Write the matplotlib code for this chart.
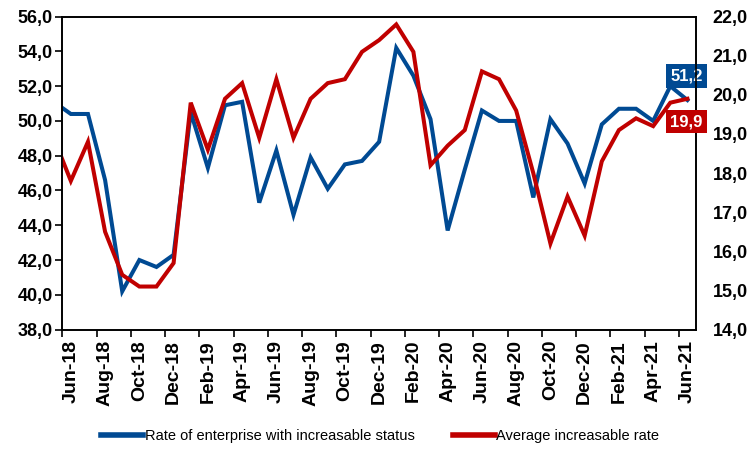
import numpy as np
import matplotlib
matplotlib.use("Agg")
import matplotlib.pyplot as plt
from matplotlib.ticker import FixedLocator, FuncFormatter

# monthly data, May-18 .. Jun-21 (May-18 only shows as the clipped stub at the left edge)
months = ["May-18", "Jun-18", "Jul-18", "Aug-18", "Sep-18", "Oct-18", "Nov-18", "Dec-18",
          "Jan-19", "Feb-19", "Mar-19", "Apr-19", "May-19", "Jun-19", "Jul-19", "Aug-19",
          "Sep-19", "Oct-19", "Nov-19", "Dec-19", "Jan-20", "Feb-20", "Mar-20", "Apr-20",
          "May-20", "Jun-20", "Jul-20", "Aug-20", "Sep-20", "Oct-20", "Nov-20", "Dec-20",
          "Jan-21", "Feb-21", "Mar-21", "Apr-21", "May-21", "Jun-21"]
rate_status = [51.1, 50.4, 50.4, 46.6, 40.2, 42.0, 41.6, 42.3, 50.5, 47.3, 50.9, 51.1,
               45.3, 48.3, 44.6, 47.9, 46.1, 47.5, 47.7, 48.8, 54.2, 52.6, 50.1, 43.7,
               47.2, 50.6, 50.0, 50.0, 45.6, 50.1, 48.7, 46.4, 49.8, 50.7, 50.7, 50.0,
               52.0, 51.2]
avg_rate = [18.9, 17.8, 18.8, 16.5, 15.4, 15.1, 15.1, 15.7, 19.8, 18.6, 19.9, 20.3,
            18.9, 20.4, 18.9, 19.9, 20.3, 20.4, 21.1, 21.4, 21.8, 21.1, 18.2, 18.7,
            19.1, 20.6, 20.4, 19.6, 18.0, 16.2, 17.4, 16.4, 18.3, 19.1, 19.4, 19.2,
            19.8, 19.9]
label_status = "Rate of enterprise with increasable status"
label_avg = "Average increasable rate"

BLUE = "#004A93"
RED = "#C00000"
plt.rcParams["font.family"] = ["Liberation Sans", "DejaVu Sans"]

x = np.arange(len(months)) - 1  # Jun-18 sits at 0

fig = plt.figure(figsize=(7.53, 4.49), dpi=100)
ax = fig.add_axes([0.0827, 0.266, 0.8416, 0.697])
ax2 = ax.twinx()

l1, = ax.plot(x, rate_status, color=BLUE, lw=2.9, solid_joinstyle="miter", label=label_status)
l2, = ax2.plot(x, avg_rate, color=RED, lw=2.9, solid_joinstyle="miter", label=label_avg)

ax.set_xlim(-0.5, 36.5)
ax.set_ylim(38, 56)
ax2.set_ylim(14, 22)
ax.set_yticks(np.arange(38, 56.1, 2))
ax2.set_yticks(np.arange(14, 22.1, 1))
comma = FuncFormatter(lambda v, p: f"{v:.1f}".replace(".", ","))
ax.yaxis.set_major_formatter(comma)
ax2.yaxis.set_major_formatter(comma)

# tick marks between categories every two months, labels on the category itself
ax.xaxis.set_major_locator(FixedLocator(np.arange(-0.5, 36, 2)))
ax.xaxis.set_major_formatter(FuncFormatter(lambda v, p: ""))
ax.xaxis.set_minor_locator(FixedLocator(np.arange(0, 37, 2)))
ax.set_xticklabels([months[i + 1] for i in range(0, 37, 2)], minor=True)
ax.tick_params(axis="x", which="major", length=5, width=1.2, direction="out")
ax.tick_params(axis="x", which="minor", length=0, pad=7.5, labelrotation=90)
for t in ax.get_xticklabels(minor=True):
    t.set_fontweight("bold")
    t.set_fontsize(14)

ax.tick_params(axis="y", length=5, width=1.2, pad=2, labelsize=13)
ax2.tick_params(axis="y", length=0, pad=12, labelsize=13)
for t in ax.get_yticklabels() + ax2.get_yticklabels():
    t.set_fontweight("bold")

for a in (ax, ax2):
    for s in a.spines.values():
        s.set_linewidth(1.2)
        s.set_color("black")

# end-of-series value labels
fmt = lambda v: f"{v:.1f}".replace(".", ",")
ax.annotate(fmt(rate_status[-1]), (x[-1], rate_status[-1]), xytext=(-1, 24),
            textcoords="offset pixels", ha="center", va="center", color="white",
            fontsize=12, fontweight="bold", annotation_clip=False,
            bbox=dict(boxstyle="square,pad=0.25", fc=BLUE, ec="none"))
ax2.annotate(fmt(avg_rate[-1]), (x[-1], avg_rate[-1]), xytext=(-1, -23),
             textcoords="offset pixels", ha="center", va="center", color="white",
             fontsize=12, fontweight="bold", annotation_clip=False,
             bbox=dict(boxstyle="square,pad=0.25", fc=RED, ec="none"))

fig.legend(handles=[l1, l2], loc="center", bbox_to_anchor=(0.505, 0.029), ncol=2,
           frameon=False, fontsize=10.5, handlelength=2.9, handletextpad=0.1,
           columnspacing=2.6, borderaxespad=0)
for h in fig.legends[0].legend_handles:
    h.set_linewidth(4)

fig.savefig("out.png", dpi=100)
